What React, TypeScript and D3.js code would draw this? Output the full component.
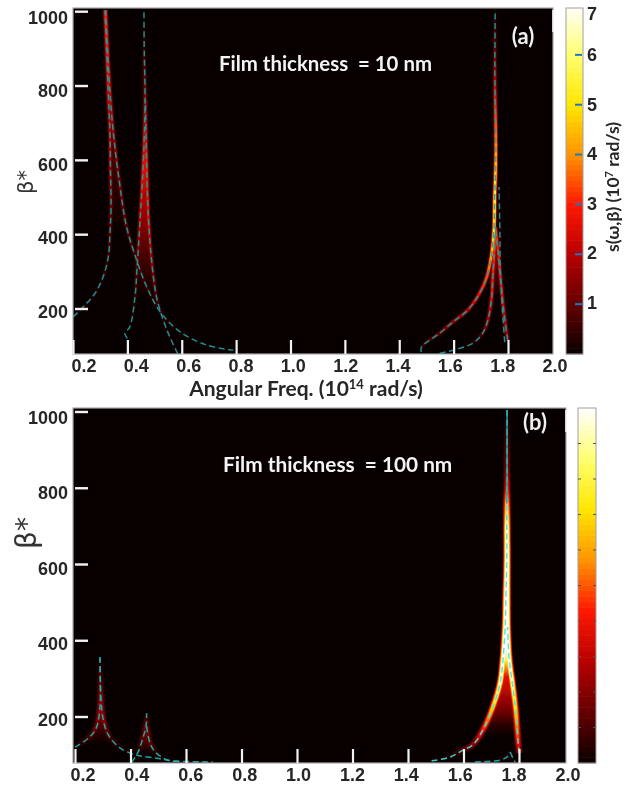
import React from 'react'
import * as d3 from 'd3'

// --- axis values
const freqTicks = [0.2, 0.4, 0.6, 0.8, 1.0, 1.2, 1.4, 1.6, 1.8, 2.0]
const betaTicks = [200, 400, 600, 800, 1000]
const colorTicksA = [1, 2, 3, 4, 5, 6]
const colorLabelsA = [1, 2, 3, 4, 5, 6, 7]
const colorTicksB = [0.7, 1.4, 2.1, 2.8, 3.5, 4.2, 4.9, 5.6, 6.3]
const hotValues = [0, 1, 2, 3, 4, 5, 6, 7]
const hotColors = ['#0a0000', '#640000', '#b80000', '#ff1800', '#ff9400', '#ffe600', '#ffff70', '#ffffff']

// --- panel (a), 10 nm: dispersion branches, s in 10^7 rad/s
const a1LeftFreq = [0.201, 0.238, 0.281, 0.311, 0.33, 0.336, 0.34, 0.338, 0.336, 0.33, 0.324, 0.318]
const a1LeftBeta = [179, 206, 242, 287, 341, 403, 475, 565, 672, 780, 897, 1004]
const a1LeftS = [0.1, 0.15, 0.2, 0.3, 0.5, 0.8, 1.1, 1.5, 1.8, 2.2, 2.6, 2.8]
const a1RightFreq = [0.32, 0.327, 0.338, 0.351, 0.373, 0.397, 0.434, 0.471, 0.52, 0.593, 0.691, 0.789]
const a1RightBeta = [1004, 897, 762, 655, 529, 421, 332, 260, 193, 139, 103, 89]
const a1RightS = [2.8, 2.6, 2, 1.6, 1.2, 0.9, 0.7, 0.5, 0.3, 0.15, 0.05, 0]
const a2LeftFreq = [0.4, 0.391, 0.409, 0.428, 0.436, 0.446, 0.458, 0.465, 0.462, 0.461]
const a2LeftBeta = [121, 134, 152, 233, 314, 430, 583, 762, 897, 1000]
const a2LeftS = [0, 0, 0.1, 0.4, 0.9, 1.8, 2.6, 1.5, 0.4, 0]
const a2RightFreq = [0.585, 0.556, 0.532, 0.507, 0.489, 0.477, 0.471, 0.466]
const a2RightBeta = [80, 125, 170, 233, 331, 448, 583, 762]
const a2RightS = [0, 0.1, 0.3, 0.7, 1.6, 2.4, 2.7, 1.5]
const a3OuterFreq = [1.481, 1.482, 1.549, 1.597, 1.652, 1.696, 1.722, 1.74, 1.748, 1.751, 1.755, 1.755, 1.752, 1.752, 1.753]
const a3OuterBeta = [84, 98, 135, 165, 197, 243, 286, 350, 412, 501, 593, 682, 808, 900, 1005]
const a3OuterS = [0, 0.4, 1.2, 1.6, 2.1, 2.8, 3.4, 4.5, 5.2, 5.5, 4.6, 3.6, 2, 1, 0.1]
const a3InnerFreq = [1.549, 1.612, 1.671, 1.707, 1.726, 1.74, 1.744, 1.751, 1.754]
const a3InnerBeta = [81, 92, 108, 135, 170, 232, 286, 367, 420]
const a3InnerS = [0, 0.05, 0.3, 0.9, 1.7, 2.4, 2.7, 3, 3.2]
const a3RightFreq = [1.799, 1.784, 1.773, 1.764, 1.755]
const a3RightBeta = [116, 197, 278, 350, 412]
const a3RightS = [1.6, 2.2, 2.5, 2.8, 3.2]
const a3UpperFreq = [1.788, 1.778, 1.772, 1.77, 1.767]
const a3UpperBeta = [111, 216, 305, 412, 528]
const a3UpperS = [0.2, 0.3, 0.3, 0.2, 0.1]

// weak signal between the branches: beta rows with left / right freq
const a1FillBeta = [403, 475, 565, 672, 780, 897, 1004]
const a1FillLeft = [0.336, 0.34, 0.338, 0.336, 0.33, 0.324, 0.318]
const a1FillRight = [0.4, 0.385, 0.367, 0.35, 0.335, 0.327, 0.32]
const a1FillS = [0, 0.2, 0.45, 0.7, 1, 2, 2.6]
const a2FillBeta = [233, 331, 448, 583, 762]
const a2FillLeft = [0.428, 0.438, 0.448, 0.458, 0.465]
const a2FillRight = [0.507, 0.489, 0.477, 0.471, 0.466]
const a2FillS = [0, 0.6, 1.6, 2.5, 1.5]
const a3FillBeta = [232, 286, 350, 412]
const a3FillLeft = [1.74, 1.744, 1.75, 1.754]
const a3FillRight = [1.779, 1.772, 1.764, 1.755]
const a3FillS = [0, 0.5, 0.9, 2]
const a3OuterFillBeta = [286, 350, 412, 501]
const a3OuterFillLeft = [1.722, 1.74, 1.748, 1.751]
const a3OuterFillRight = [1.744, 1.75, 1.754, 1.755]
const a3OuterFillS = [0.2, 1.2, 4, 5.4]

// --- panel (b), 100 nm
const b1LeftFreq = [0.2, 0.254, 0.278, 0.29, 0.291, 0.29]
const b1LeftBeta = [121, 148, 174, 226, 297, 357]
const b1LeftS = [0.1, 0.7, 1.2, 1.6, 0.5, 0]
const b1RightFreq = [0.29, 0.294, 0.302, 0.32, 0.362, 0.422, 0.494, 0.553, 0.697]
const b1RightBeta = [357, 245, 192, 153, 119, 100, 92, 85, 82]
const b1RightS = [0, 1.4, 1.5, 0.8, 0.2, 0, 0, 0, 0]
const b2LeftFreq = [0.404, 0.428, 0.446, 0.456, 0.458]
const b2LeftBeta = [81, 109, 148, 175, 210]
const b2LeftS = [0, 0.3, 1, 1.2, 0.1]
const b2RightFreq = [0.458, 0.47, 0.488, 0.518, 0.542, 0.578]
const b2RightBeta = [175, 132, 109, 92, 85, 84]
const b2RightS = [1.2, 1, 0.4, 0.05, 0, 0]
const b3LeftFreq = [1.485, 1.551, 1.598, 1.634, 1.67, 1.706, 1.732, 1.742, 1.75, 1.753, 1.756, 1.756, 1.756, 1.757, 1.757, 1.757]
const b3LeftBeta = [85, 95, 113, 127, 166, 226, 289, 349, 436, 525, 612, 700, 760, 800, 850, 1005]
const b3LeftS = [0, 0.1, 0.8, 1.5, 3, 5, 6.5, 7, 7, 7, 7, 6.5, 4.5, 2.8, 1.5, 0]
const b3RightFreq = [1.801, 1.797, 1.788, 1.776, 1.765, 1.759, 1.758, 1.758, 1.757, 1.757]
const b3RightBeta = [105, 132, 218, 289, 349, 436, 525, 612, 700, 790]
const b3RightS = [1.5, 2.8, 5, 6.5, 7, 7, 7, 7, 6.5, 2.6]
const b4LeftFreq = [1.641, 1.732, 1.757, 1.768]
const b4LeftBeta = [82, 87, 95, 108]
const b4LeftS = [0, 0, 0.2, 0.2]
const b4RightFreq = [1.768, 1.778, 1.786]
const b4RightBeta = [108, 92, 82]
const b4RightS = [0.2, 0.1, 0]

const b1FillBeta = [130, 174, 226, 260]
const b1FillLeft = [0.22, 0.278, 0.29, 0.291]
const b1FillRight = [0.345, 0.31, 0.295, 0.292]
const b1FillS = [0, 0.6, 1.3, 0.9]
const b2FillBeta = [109, 132, 175]
const b2FillLeft = [0.428, 0.44, 0.456]
const b2FillRight = [0.488, 0.47, 0.458]
const b2FillS = [0, 0.7, 1.2]
const b3FillBeta = [150, 176, 218, 305, 349, 380, 436]
const b3FillLeft = [1.66, 1.675, 1.7, 1.735, 1.742, 1.747, 1.75]
const b3FillRight = [1.797, 1.795, 1.788, 1.772, 1.765, 1.761, 1.758]
const b3FillS = [0, 0.3, 1.2, 2.6, 5.5, 7, 7]

const hot = d3.scaleLinear<string>().domain(hotValues).range(hotColors).clamp(true)
const sans = '"Liberation Sans", Arial, sans-serif'
const lato = 'Lato, "Open Sans", sans-serif'

const zip = (f: number[], b: number[], s: number[]) => f.map((d, i) => ({ f: d, b: b[i], s: s[i] }))

const branchesA = [
  zip(a1LeftFreq, a1LeftBeta, a1LeftS),
  zip(a1RightFreq, a1RightBeta, a1RightS),
  zip(a2LeftFreq, a2LeftBeta, a2LeftS),
  zip(a2RightFreq, a2RightBeta, a2RightS),
  zip(a3InnerFreq, a3InnerBeta, a3InnerS),
  zip(a3RightFreq, a3RightBeta, a3RightS),
  zip(a3UpperFreq, a3UpperBeta, a3UpperS),
  zip(a3OuterFreq, a3OuterBeta, a3OuterS)
]
const fillsA = [
  { beta: a1FillBeta, left: a1FillLeft, right: a1FillRight, s: a1FillS },
  { beta: a2FillBeta, left: a2FillLeft, right: a2FillRight, s: a2FillS },
  { beta: a3FillBeta, left: a3FillLeft, right: a3FillRight, s: a3FillS },
  { beta: a3OuterFillBeta, left: a3OuterFillLeft, right: a3OuterFillRight, s: a3OuterFillS }
]
const branchesB = [
  zip(b1LeftFreq, b1LeftBeta, b1LeftS),
  zip(b1RightFreq, b1RightBeta, b1RightS),
  zip(b2LeftFreq, b2LeftBeta, b2LeftS),
  zip(b2RightFreq, b2RightBeta, b2RightS),
  zip(b4LeftFreq, b4LeftBeta, b4LeftS),
  zip(b4RightFreq, b4RightBeta, b4RightS),
  zip(b3RightFreq, b3RightBeta, b3RightS),
  zip(b3LeftFreq, b3LeftBeta, b3LeftS)
]
const fillsB = [
  { beta: b1FillBeta, left: b1FillLeft, right: b1FillRight, s: b1FillS },
  { beta: b2FillBeta, left: b2FillLeft, right: b2FillRight, s: b2FillS },
  { beta: b3FillBeta, left: b3FillLeft, right: b3FillRight, s: b3FillS }
]

function Stops ({ id, y, beta, s, scale = 1 }: any) {
  const y1 = y(beta[0])
  const y2 = y(beta[beta.length - 1])
  return (
    <linearGradient id={id} gradientUnits='userSpaceOnUse' x1={0} x2={0} y1={y1} y2={y2}>
      {beta.map((b: number, i: number) => (
        <stop key={i} offset={(y(b) - y1) / (y2 - y1)} stopColor={hot(s[i] * scale)} />
      ))}
    </linearGradient>
  )
}

function Panel ({ id, box, freqPx, betaPx, labelFreqPx, labelBetaPx, labelY, branches, fills, layers, note, noteX, noteY, noteSize, tag, tagX, tagY, dashColor, betaLabelSize, betaLabelX, betaLabelY }: any) {
  const { left, right, top, bottom } = box
  const x = d3.scaleLinear().domain([0.2, 1.8]).range(freqPx)
  const y = d3.scaleLinear().domain([200, 1000]).range(betaPx)
  const lx = d3.scaleLinear().domain([0.2, 2.0]).range(labelFreqPx)
  const ly = d3.scaleLinear().domain([200, 1000]).range(labelBetaPx)
  const line = d3.line<any>().x(d => x(d.f)).y(d => y(d.b)).curve(d3.curveCatmullRom.alpha(0.5))
  const area = d3.area<number>()
    .y((d) => y(d))
    .curve(d3.curveCatmullRom.alpha(0.5))

  return (
    <g>
      <rect x={left} y={top} width={right - left} height={bottom - top} fill='#080000' />
      <defs>
        <clipPath id={`${id}-clip`}>
          <rect x={left} y={top} width={right - left} height={bottom - top} />
        </clipPath>
        <filter id={`${id}-blur`} x='-30%' y='-5%' width='160%' height='110%'>
          <feGaussianBlur stdDeviation='0.7' />
        </filter>
        {fills.map((f: any, i: number) => (
          <Stops key={i} id={`${id}-fill-${i}`} y={y} beta={f.beta} s={f.s} />
        ))}
        {branches.map((b: any[], i: number) => layers.map((l: any, j: number) => (
          <Stops key={`${i}-${j}`} id={`${id}-b${i}-l${j}`} y={y} beta={b.map(d => d.b)} s={b.map(d => d.s)} scale={l.scale} />
        )))}
      </defs>

      <g clipPath={`url(#${id}-clip)`}>
        <g filter={`url(#${id}-blur)`}>
          {fills.map((f: any, i: number) => (
            <path
              key={i}
              fill={`url(#${id}-fill-${i})`}
              d={area.x0((_, k) => x(f.left[k])).x1((_, k) => x(f.right[k]))(f.beta) as string}
            />
          ))}
          {layers.map((l: any, j: number) => branches.map((b: any[], i: number) => (
            <path key={`${i}-${j}`} d={line(b) as string} fill='none' stroke={`url(#${id}-b${i}-l${j})`} strokeWidth={l.width} style={{ mixBlendMode: 'lighten' }} />
          )))}
        </g>
        {branches.filter((_: any, i: number) => !(id === 'b' && i === 6)).map((b: any[], i: number) => (
          <path key={i} d={line(b) as string} fill='none' stroke={dashColor(i)} strokeWidth={1.5} strokeDasharray='6 3.5' opacity={0.9} />
        ))}
        {id === 'b' && (
          <path d={line(branches[6].filter((d: any) => d.b <= 436)) as string} fill='none' stroke={dashColor(6)} strokeWidth={1.5} strokeDasharray='6 3.5' opacity={0.9} />
        )}
        {id === 'b' && (
          <path d={line(branches[7].filter((d: any) => d.b >= 760)) as string} fill='none' stroke='#1fa5a8' strokeWidth={1.4} />
        )}
      </g>

      {/* frame */}
      <rect x={left} y={top} width={right - left} height={bottom - top} fill='none' stroke='#a8a8a8' strokeWidth={1.2} />
      <line x1={right} x2={right} y1={top + 2} y2={top + 24} stroke='#ffffff' strokeWidth={1.5} />

      {/* ticks sit on the image, labels were set on top of it */}
      {freqTicks.filter(d => x(d) <= right).map(d => (
        <line key={d} x1={x(d) + 0.5} x2={x(d) + 0.5} y1={bottom} y2={bottom - 14} stroke='#f2f2f2' strokeWidth={2.2} />
      ))}
      {betaTicks.map(d => (
        <line key={d} x1={left + 2} x2={left + 15} y1={y(d)} y2={y(d)} stroke='#f2f2f2' strokeWidth={2.4} />
      ))}
      {freqTicks.map(d => (
        <text key={d} x={lx(d)} y={labelY} textAnchor='middle' fontFamily={sans} fontWeight='bold' fontSize={18} fill='#262626'>{d.toFixed(1)}</text>
      ))}
      {betaTicks.map(d => (
        <text key={d} x={68} y={ly(d) + 6.5} textAnchor='end' fontFamily={sans} fontWeight='bold' fontSize={18} fill='#262626'>{d}</text>
      ))}
      <text transform={`translate(${betaLabelX},${betaLabelY}) rotate(-90)`} textAnchor='middle' fontFamily='"DejaVu Sans", sans-serif' fontSize={betaLabelSize} fill='#333333'>β*</text>
      <text x={noteX} y={noteY} fontFamily={lato} fontWeight='bold' fontSize={noteSize} fill='#f4f4f4' xmlSpace='preserve'>{note}</text>
      <text x={tagX} y={tagY} textAnchor='middle' fontFamily={lato} fontWeight='bold' fontSize={22} fill='#f0f0f0'>{tag}</text>
    </g>
  )
}

function ColorBar ({ id, x0, x1, top, bottom, maxValue, blueTicks, darkTicks }: any) {
  const y = d3.scaleLinear().domain([0, maxValue]).range([bottom, top])
  const bands = d3.range(64).map(i => (i / 64) * maxValue)
  const h = (bottom - top) / 64
  return (
    <g>
      {bands.map((v, i) => (
        <rect key={`${id}-${i}`} x={x0} width={x1 - x0} y={y(v) - h - 0.3} height={h + 0.6} fill={hot(v + maxValue / 128)} />
      ))}
      <rect x={x0} y={top} width={x1 - x0} height={bottom - top} fill='none' stroke='#a0a0a0' strokeWidth={1} />
      {darkTicks.map((d: number) => (
        <g key={d}>
          <line x1={x0} x2={x0 + 3} y1={y(d)} y2={y(d)} stroke='#555' strokeWidth={1} />
          <line x1={x1 - 3} x2={x1} y1={y(d)} y2={y(d)} stroke='#555' strokeWidth={1} />
        </g>
      ))}
      {blueTicks.map((d: number) => (
        <line key={d} x1={x1 - 8} x2={x1 - 1} y1={y(d)} y2={y(d)} stroke='#1c78c4' strokeWidth={2} />
      ))}
    </g>
  )
}

export default function App () {
  const dashA = () => '#1c9da0'
  const dashB = (i: number) => (i >= 6 ? '#3fe4e4' : '#1cb4b8')
  const colorLabelY = d3.scaleLinear().domain([1, 6]).range([302, 54])

  return (
    <svg width={639} height={789} style={{ position: 'absolute', left: 0, top: 0, background: '#ffffff', filter: 'blur(0.45px)' }}>
      <Panel
        id='a'
        box={{ left: 73, right: 553, top: 8, bottom: 354 }}
        freqPx={[73, 508]}
        betaPx={[309, 11.7]}
        labelFreqPx={[84, 555]}
        labelBetaPx={[311, 17]}
        labelY={371.5}
        branches={branchesA}
        fills={fillsA}
        layers={[{ width: 4.4, scale: 0.5 }, { width: 2.4, scale: 1 }]}
        note={'Film thickness  = 10 nm'}
        noteX={219}
        noteY={71}
        noteSize={20.4}
        tag='(a)'
        tagX={523}
        tagY={44}
        dashColor={dashA}
        betaLabelSize={21}
        betaLabelX={33}
        betaLabelY={182}
      />
      <text x={306} y={396} textAnchor='middle' fontFamily={lato} fontWeight='bold' fontSize={21} fill='#262626'>
        Angular Freq. (10<tspan dy={-7} fontSize={13}>14</tspan><tspan dy={7}> rad/s)</tspan>
      </text>
      <ColorBar id='ca' x0={566} x1={583} top={8} bottom={354} maxValue={6.94} blueTicks={colorTicksA} darkTicks={[]} />
      {colorLabelsA.map(d => (
        <text key={d} x={592} y={(d === 7 ? 13 : colorLabelY(d)) + 7} textAnchor='middle' fontFamily={sans} fontWeight='bold' fontSize={18} fill='#262626'>{d}</text>
      ))}
      <text transform='translate(619,187) rotate(-90)' textAnchor='middle' fontFamily={lato} fontWeight='bold' fontSize={17.5} fill='#262626'>
        s(ω,β) (10<tspan dy={-6} fontSize={11}>7</tspan><tspan dy={6}> rad/s)</tspan>
      </text>

      <Panel
        id='b'
        box={{ left: 73, right: 566, top: 408, bottom: 763 }}
        freqPx={[75, 519]}
        betaPx={[717, 412]}
        labelFreqPx={[83, 568]}
        labelBetaPx={[719, 417]}
        labelY={781}
        branches={branchesB}
        fills={fillsB}
        layers={[{ width: 7, scale: 0.42 }, { width: 5, scale: 0.68 }, { width: 3.2, scale: 1 }]}
        note={'Film thickness  = 100 nm'}
        noteX={223}
        noteY={472}
        noteSize={20.8}
        tag='(b)'
        tagX={535}
        tagY={430}
        dashColor={dashB}
        betaLabelSize={28}
        betaLabelX={36}
        betaLabelY={533}
      />
      <ColorBar id='cb' x0={578} x1={596} top={408} bottom={763} maxValue={7} blueTicks={[]} darkTicks={colorTicksB} />
    </svg>
  )
}
